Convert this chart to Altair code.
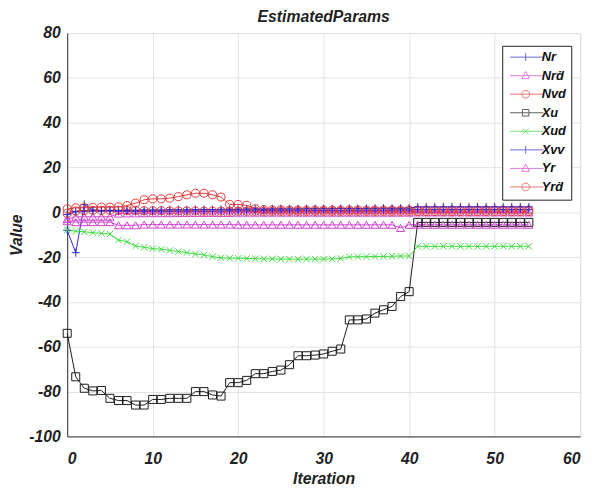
import altair as alt
import pandas as pd

iterations = list(range(55))
series = ["Nr", "Nrḋ", "Nvd", "Xu", "Xud", "Xvv", "Yr", "Yrḋ"]
colors = ["#2a2ad0", "#d040d0", "#e03a3a", "#1a1a1a", "#3ddc3d", "#2a2ad0", "#d040d0", "#e03a3a"]

Nr = [-8, -18, 3.5, 1.0, 0.5, 0.6, 0.4, 0.4, 0.3, 0.3, 0.3, 0.3, 0.4, 0.4, 0.4, 0.5, 0.5, 0.5, 0.5, 0.6,
      0.6, 0.6, 0.6, 0.7, 0.7, 0.7, 0.7, 0.7, 0.8, 0.8, 0.8, 0.8, 0.8, 0.9, 0.9, 0.9, 0.9, 0.9, 1.0, 1.0,
      1.0, 1.2, 1.2, 1.2, 1.2, 1.2, 1.2, 1.2, 1.2, 1.2, 1.2, 1.2, 1.2, 1.2, 1.2]
Nrd = [-3, -2, -2, -2, -2, -2, -0.6, -0.5, -0.5, -0.4, -0.4, -0.4, -0.4, -0.3, -0.3, -0.3, -0.3, -0.3, -0.3, -0.3,
       -0.2, -0.2, -0.2, -0.2, -0.2, -0.2, -0.2, -0.2, -0.2, -0.2, -0.2, -0.2, -0.2, -0.2, -0.2, -0.2, -0.2, -0.2, -0.2, -0.2,
       -0.2, -0.1, -0.1, -0.1, -0.1, -0.1, -0.1, -0.1, -0.1, -0.1, -0.1, -0.1, -0.1, -0.1, -0.1]
Nvd = [1.5, 2.0, 2.0, 2.2, 2.3, 2.3, 2.4, 3.0, 4.1, 5.6, 6.0, 6.0, 6.3, 7.0, 7.8, 8.5, 8.5, 7.8, 6.8, 3.5,
       3.5, 3.1, 1.6, 1.2, 1.1, 1.1, 1.0, 1.0, 1.0, 1.0, 1.0, 1.0, 1.0, 1.0, 1.0, 1.0, 1.0, 1.0, 1.0, 1.0,
       1.0, 1.0, 1.0, 1.0, 1.0, 1.0, 1.0, 1.0, 1.0, 1.0, 1.0, 1.0, 1.0, 1.0, 1.0]
Xu = [-54, -73.4, -78.5, -79.7, -79.5, -83, -84, -84, -86, -86, -83.5, -83.5, -83, -83, -83, -80, -80, -81.5, -82, -76,
      -76, -75, -72, -72, -71, -70.4, -68, -64, -64, -63.7, -63.2, -62, -61, -48, -48, -47.6, -45, -43.5, -42, -37.6,
      -35.4, -4.5, -4.5, -4.5, -4.5, -4.5, -4.5, -4.5, -4.5, -4.5, -4.5, -4.5, -4.5, -4.5, -4.5]
Xud = [-7.9, -8.4, -8.7, -9.1, -9.4, -9.7, -12.4, -13.1, -15, -15.6, -16.2, -16.5, -17, -17.5, -18, -18.6, -19, -19.8, -20.3, -20.5,
       -20.5, -20.6, -20.7, -20.8, -20.8, -20.9, -20.9, -20.9, -20.9, -20.9, -20.9, -20.8, -20.6, -19.9, -19.8, -19.8, -19.7, -19.7, -19.6, -19.5,
       -19.5, -15.2, -15.2, -15.2, -15.2, -15.2, -15.2, -15.2, -15.2, -15.2, -15.2, -15.2, -15.2, -15.2, -15.2]
Xvv = [-1.0, 0.2, 0.5, 0.6, 0.7, 0.8, 0.8, 0.9, 0.9, 1.0, 1.0, 1.0, 1.1, 1.1, 1.1, 1.2, 1.2, 1.2, 1.3, 1.3,
       1.3, 1.4, 1.4, 1.4, 1.5, 1.5, 1.5, 1.5, 1.6, 1.6, 1.6, 1.6, 1.7, 1.7, 1.7, 1.7, 1.8, 1.8, 1.8, 1.8,
       1.9, 2.4, 2.4, 2.4, 2.4, 2.4, 2.4, 2.4, 2.4, 2.4, 2.4, 2.4, 2.4, 2.4, 2.4]
Yr = [-4.0, -4.4, -4.4, -4.4, -4.4, -4.4, -5.8, -5.8, -5.8, -5.5, -5.5, -5.5, -5.5, -5.5, -5.5, -5.5, -5.5, -5.5, -5.5, -5.5,
      -5.6, -5.6, -5.6, -5.6, -5.6, -5.6, -5.6, -5.6, -5.6, -5.6, -5.6, -5.6, -5.6, -5.6, -5.6, -5.6, -5.6, -5.6, -5.6, -7.0,
      -5.6, -5.6, -5.6, -5.6, -5.6, -5.6, -5.6, -5.6, -5.6, -5.6, -5.6, -5.6, -5.6, -5.6, -5.6]
Yrd = [-0.5, 0.6, 0.8, 0.9, 0.9, 0.9, 0.9, 0.8, 0.8, 0.7, 0.7, 0.7, 0.6, 0.6, 0.6, 0.6, 0.5, 0.5, 0.5, 0.5,
       0.5, 0.5, 0.5, 0.4, 0.4, 0.4, 0.4, 0.4, 0.4, 0.4, 0.4, 0.4, 0.4, 0.4, 0.4, 0.4, 0.4, 0.4, 0.4, 0.4,
       0.4, 0.3, 0.3, 0.3, 0.3, 0.3, 0.3, 0.3, 0.3, 0.3, 0.3, 0.3, 0.3, 0.3, 0.3]

values = [Nr, Nrd, Nvd, Xu, Xud, Xvv, Yr, Yrd]

rows = []
for k, (name, vals) in enumerate(zip(series, values)):
    for it, v in zip(iterations, vals):
        rows.append({"series": name, "order": k, "iteration": it, "value": v})
df = pd.DataFrame(rows)

plus = "M-1,0H1M0,-1V1"
cross = "M-0.8,-0.8L0.8,0.8M0.8,-0.8L-0.8,0.8"
plot_shapes = [plus, "triangle-up", "circle", "square", cross, plus, "triangle-up", "circle"]

L = "M-1.2,0H10.1"
lg_plus = L + "M4.1,-1.3V1.3"
lg_tri = L + "M4.1,-1.4L5.4,1H2.8Z"
lg_circ = L + "M5.4,0A1.3,1.3 0 1 1 2.8,0A1.3,1.3 0 1 1 5.4,0"
lg_sq = L + "M3.0,-1.1H5.2V1.1H3.0Z"
lg_x = L + "M3.1,-1L5.1,1M5.1,-1L3.1,1"
legend_shapes = [lg_plus, lg_tri, lg_circ, lg_sq, lg_x, lg_plus, lg_tri, lg_circ]

FONT = "Liberation Sans"

x_enc = alt.X("iteration:Q", scale=alt.Scale(domain=[0, 60], nice=False),
              axis=alt.Axis(values=list(range(0, 61, 10)), title="Iteration"))
y_enc = alt.Y("value:Q", scale=alt.Scale(domain=[-100, 80], nice=False),
              axis=alt.Axis(values=list(range(-100, 81, 20)), title="Value",
                            labelExpr="toString(datum.value)"))
color_scale = alt.Scale(domain=series, range=colors)

base = alt.Chart(df)

lines = base.mark_line(strokeWidth=1).encode(
    x=x_enc, y=y_enc,
    color=alt.Color("series:N", scale=color_scale, legend=None),
    order="iteration:Q",
)
points = base.mark_point(filled=False, size=66, strokeWidth=1, opacity=1).encode(
    x=x_enc, y=y_enc,
    color=alt.Color("series:N", scale=color_scale, legend=None),
    shape=alt.Shape("series:N", scale=alt.Scale(domain=series, range=plot_shapes), legend=None),
)

leg = alt.Legend(orient="none", legendX=441, legendY=13, title=None, symbolSize=36,
                 symbolStrokeWidth=1, labelOffset=22, padding=5, rowPadding=4.8,
                 strokeColor="#222222", fillColor="white", labelFont=FONT,
                 labelFontSize=13, labelFontWeight="bold", labelFontStyle="italic",
                 labelColor="#111111", labelExpr="datum.label + '\u2002\u2009'")
legend_layer = base.transform_filter("false").mark_point(filled=False, size=36, strokeWidth=1).encode(
    x=x_enc, y=y_enc,
    color=alt.Color("series:N", scale=color_scale, legend=leg),
    shape=alt.Shape("series:N", scale=alt.Scale(domain=series, range=legend_shapes), legend=leg),
)

chart = alt.layer(lines, points, legend_layer).resolve_scale(
    color="independent", shape="independent"
).properties(
    width=520, height=409,
    title=alt.TitleParams("EstimatedParams", font=FONT, fontSize=16, fontWeight="bold",
                          fontStyle="italic", color="#222222", offset=0),
    autosize=alt.AutoSizeParams(type="none"),
    padding={"left": 60, "top": 22, "right": 10, "bottom": 52},
).configure_view(stroke="#dcdcdc", strokeWidth=1).configure_axis(
    labelFont=FONT, labelFontSize=16, labelFontWeight="bold", labelFontStyle="italic",
    labelColor="#222222", titleFont=FONT, titleFontSize=16, titleFontWeight="bold",
    titleFontStyle="italic", titleColor="#222222", gridColor="#e2e2e2", gridWidth=1,
    domainColor="#333333", domainWidth=1, ticks=False,
).configure_axisX(labelPadding=14, titlePadding=5).configure_axisY(labelPadding=7, titlePadding=4)

chart.save("out.html", embed_options={"renderer": "svg", "actions": False})
